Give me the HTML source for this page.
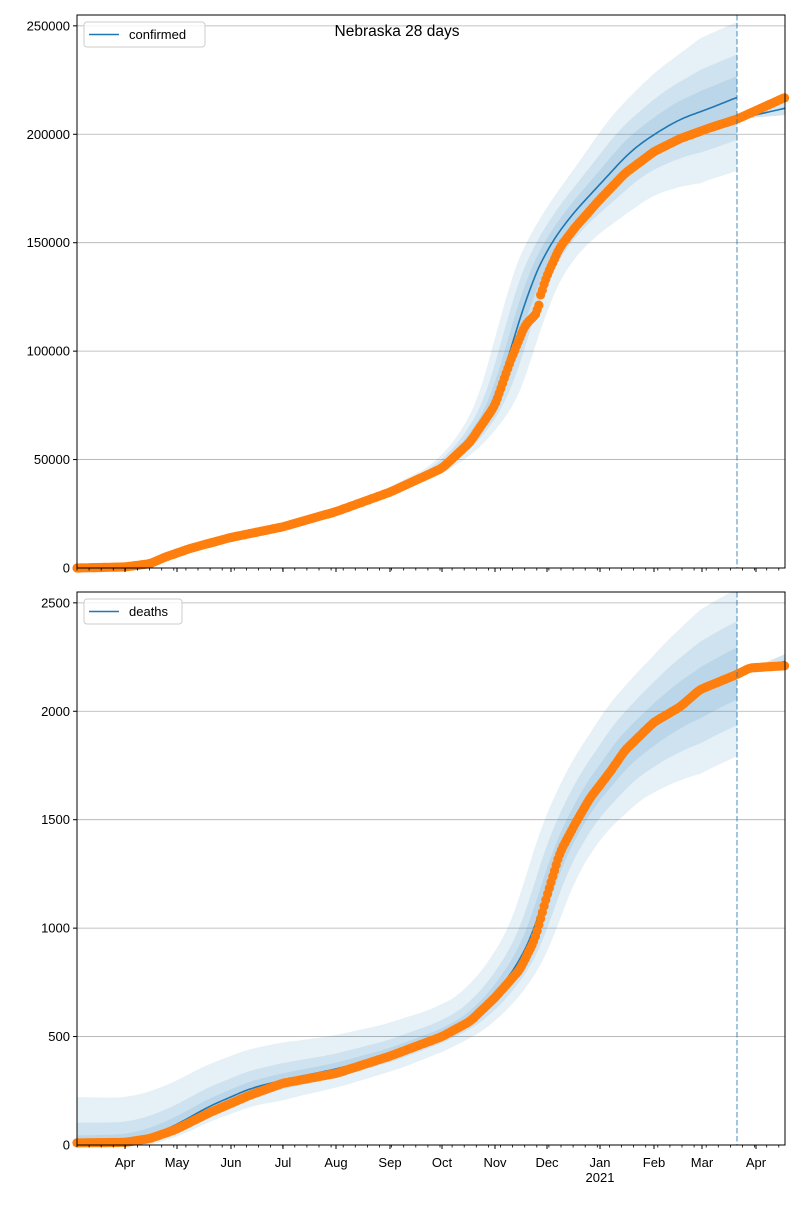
<!DOCTYPE html>
<html><head><meta charset="utf-8"><style>
body{margin:0;background:#fff;}
svg text{font-family:"Liberation Sans","DejaVu Sans",sans-serif;}
</style></head><body>
<svg id="s" width="800" height="1200" xmlns="http://www.w3.org/2000/svg"></svg>
<script>
const S=document.getElementById('s');let h='';
const X0=77,X1=785,XD=737;
function lin(pts,x){if(x<=pts[0][0])return pts[0][1];for(let i=1;i<pts.length;i++){if(x<=pts[i][0]){const a=pts[i-1],b=pts[i];return a[1]+(b[1]-a[1])*(x-a[0])/(b[0]-a[0]);}}return pts[pts.length-1][1];}
function sm(pts,x,w){let s=0,n=0;for(let d=-w;d<=w;d+=1){s+=lin(pts,x+d);n++;}return s/n;}
function panel(top,bot,ymax,ticks,dataF,modelF,post,bandFn,label,lw){
  const Y=v=>bot-(v/ymax)*(bot-top);
  ticks.forEach(t=>{const y=Y(t);h+=`<line x1="${X0}" x2="${X1}" y1="${y}" y2="${y}" stroke="#b0b0b0" stroke-width="0.8"/>`;
    h+=`<line x1="${X0-4}" x2="${X0}" y1="${y}" y2="${y}" stroke="#000"/>`;
    h+=`<text x="${X0-7}" y="${y+4.5}" font-size="13" text-anchor="end">${t}</text>`;});
  [3,2,1].forEach(k=>{let up=[],lo=[];for(let x=X0;x<=XD;x+=2){const b=bandFn(x,k);up.push(x+','+Y(Math.min(ymax*1.0,b[1])).toFixed(1));lo.unshift(x+','+Y(b[0]).toFixed(1));}
    h+=`<polygon points="${up.join(' ')} ${lo.join(' ')}" fill="#1f77b4" fill-opacity="0.11"/>`;});
  {let up=[],lo=[];for(let x=XD;x<=X1;x+=2){const m=lin(post,x);const w=(x-XD)/48*0.015*m;up.push(x+','+Y(m+w));lo.unshift(x+','+Y(m-w));}
   h+=`<polygon points="${up.join(' ')} ${lo.join(' ')}" fill="#1f77b4" fill-opacity="0.2"/>`;}
  let p=[];for(let x=X0;x<=XD;x+=2)p.push(x+','+Y(modelF(x)).toFixed(1));
  h+=`<polyline points="${p.join(' ')}" fill="none" stroke="#1f77b4" stroke-width="1.6"/>`;
  p=[];for(let x=XD;x<=X1;x+=2)p.push(x+','+Y(lin(post,x)).toFixed(1));
  h+=`<polyline points="${p.join(' ')}" fill="none" stroke="#1f77b4" stroke-width="1.6"/>`;
  for(let x=X0;x<=X1+1;x+=1.73){h+=`<circle cx="${x.toFixed(1)}" cy="${Y(dataF(x)).toFixed(1)}" r="4.6" fill="#ff7f0e"/>`;}
  h+=`<line x1="${XD}" x2="${XD}" y1="${top}" y2="${bot}" stroke="#1f77b4" stroke-opacity="0.55" stroke-width="1.5" stroke-dasharray="5.5,2.5"/>`;
  h+=`<rect x="${X0}" y="${top}" width="${X1-X0}" height="${bot-top}" fill="none" stroke="#000" stroke-width="1"/>`;
  const mon=[125,177,231,283,336,390,442,495,547,600,654,702,756];
  for(let x=X0;x<=X1;x+=12.1)h+=`<line x1="${x.toFixed(1)}" x2="${x.toFixed(1)}" y1="${bot}" y2="${bot+2.5}" stroke="#000" stroke-width="0.8"/>`;
  mon.forEach(x=>h+=`<line x1="${x}" x2="${x}" y1="${bot}" y2="${bot+4}" stroke="#000"/>`);
  h+=`<rect x="${X0+7}" y="${top+7}" width="${lw}" height="25" rx="3" fill="#fff" fill-opacity="0.8" stroke="#ccc"/>`;
  h+=`<line x1="${X0+12}" x2="${X0+42}" y1="${top+19.5}" y2="${top+19.5}" stroke="#1f77b4" stroke-width="1.6"/>`;
  h+=`<text x="${X0+52}" y="${top+24}" font-size="13">${label}</text>`;
  return mon;
}
const ramp=(x,a,b)=>Math.min(1,Math.max(0,(x-a)/(b-a)));
// confirmed
const cData=[[77,0],[125,500],[150,2000],[165,5000],[190,9000],[230,14000],[283,19000],[336,26000],[390,35000],[442,46000],[470,58000],[495,75000],[510,95000],[525,112000],[538,118000],[540,125000],[547,135000],[560,148000],[575,157000],[600,170000],[625,182000],[654,192000],[680,198000],[710,203000],[737,207000],[785,217000]];
const cModel=[[77,0],[125,500],[150,2000],[165,5000],[190,9500],[230,14500],[283,19500],[336,26500],[390,36000],[442,47000],[470,59000],[495,77000],[510,100000],[530,130000],[547,147000],[570,162000],[600,177000],[630,192000],[654,200000],[680,207000],[710,212000],[737,217000],[800,228000]];
const cPost=[[737,207000],[785,212000]];
const cD=x=>x>=538&&x<541?lin(cData,x):sm(cData,x,3);
const cM=x=>sm(cModel,x,12);
function cBand(x,k){const s=[0,6,13,22][k]*(0.25+0.75*ramp(x,380,520));const a=[0,0.04,0.08,0.14][k]*ramp(x,500,700);
 return [cM(x-s)*(1-a),cM(x+s)*(1+a)];}
panel(15,568,255000,[0,50000,100000,150000,200000,250000],cD,cM,cPost,cBand,'confirmed',121);
// deaths
const dData=[[77,10],[125,12],[150,30],[175,70],[210,150],[250,230],[283,285],[336,330],[390,410],[442,500],[470,570],[495,680],[520,810],[535,950],[547,1150],[560,1350],[575,1480],[590,1600],[610,1720],[625,1820],[654,1950],[680,2020],[700,2100],[737,2170],[750,2200],[785,2210]];
const dModel=[[77,5],[125,12],[150,40],[175,90],[210,180],[250,260],[283,300],[336,350],[390,420],[442,510],[470,580],[495,690],[520,850],[535,1000],[547,1180],[560,1350],[575,1490],[590,1610],[610,1730],[625,1820],[654,1940],[680,2030],[710,2110],[737,2175],[800,2300]];
const dPost=[[737,2170],[785,2230]];
const dD=x=>sm(dData,x,3);
const dM=x=>sm(dModel,x,10);
const addU=[[77,215],[200,190],[283,170],[442,110],[560,50],[650,0]];
const addL=[[77,0],[200,60],[283,90],[442,60],[550,0]];
function dBand(x,k){const s=[0,5,10,17][k]*(0.2+0.8*ramp(x,300,520));
 const a=[0,0.05,0.10,0.16][k]*ramp(x,450,700);
 const sc=[0,0.18,0.45,1][k];
 const lo=Math.max(0,dM(x-s)*(1-a)-sc*lin(addL,x));
 const up=dM(x+s)*(1+a)+sc*lin(addU,x);
 return [lo,up];}
const mon=panel(592,1145,2550,[0,500,1000,1500,2000,2500],dD,dM,dPost,dBand,'deaths',98);
const names=['Apr','May','Jun','Jul','Aug','Sep','Oct','Nov','Dec','Jan','Feb','Mar','Apr'];
mon.forEach((x,i)=>h+=`<text x="${x}" y="1167" font-size="13" text-anchor="middle">${names[i]}</text>`);
h+=`<text x="600" y="1182" font-size="13" text-anchor="middle">2021</text>`;
h+=`<text x="397" y="36" font-size="15.5" text-anchor="middle">Nebraska 28 days</text>`;
S.innerHTML=h;
</script>
</body></html>
